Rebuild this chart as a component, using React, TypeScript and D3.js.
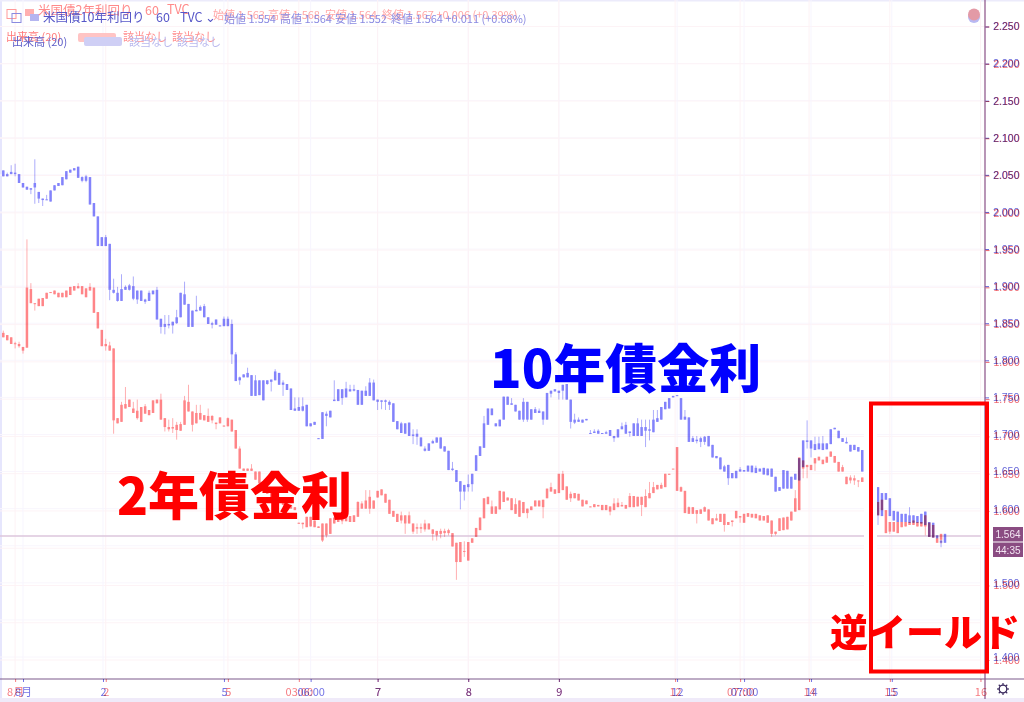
import React, { useEffect, useRef } from 'react';
import * as d3 from 'd3';

type Bar = [number, number, number, number] | null;

// rows are open, high, low, close; null = no bar in the pasted gap
const tenYear: Bar[] = [
  [2.056,2.056,2.048,2.048],[2.051,2.053,2.048,2.048],[2.054,2.063,2.051,2.051],[2.053,2.065,2.048,2.051],[2.051,2.051,2.039,2.039],[2.039,2.039,2.033,2.033],
  [2.034,2.034,2.030,2.030],[2.032,2.032,2.024,2.030],[2.039,2.071,2.011,2.033],[2.027,2.027,2.012,2.018],[2.018,2.018,2.008,2.016],[2.017,2.023,2.016,2.016],
  [2.029,2.029,2.014,2.014],[2.036,2.036,2.029,2.029],[2.039,2.039,2.035,2.035],[2.047,2.047,2.036,2.036],[2.055,2.055,2.044,2.044],[2.057,2.057,2.053,2.053],
  [2.059,2.059,2.056,2.056],[2.061,2.061,2.046,2.046],[2.047,2.048,2.040,2.042],[2.048,2.050,2.040,2.042],[2.047,2.047,2.010,2.010],[2.012,2.012,1.994,1.994],
  [1.994,1.994,1.954,1.954],[1.966,1.966,1.954,1.954],[1.966,1.969,1.954,1.954],[1.957,1.957,1.881,1.895],[1.895,1.910,1.890,1.891],[1.891,1.899,1.879,1.880],
  [1.896,1.916,1.880,1.880],[1.899,1.901,1.895,1.895],[1.901,1.903,1.894,1.895],[1.900,1.913,1.881,1.883],[1.894,1.894,1.876,1.882],[1.894,1.894,1.880,1.880],
  [1.882,1.883,1.876,1.879],[1.891,1.894,1.880,1.880],[1.894,1.894,1.889,1.889],[1.895,1.899,1.855,1.855],[1.856,1.856,1.836,1.845],[1.849,1.861,1.835,1.845],
  [1.849,1.861,1.843,1.847],[1.852,1.852,1.836,1.847],[1.858,1.868,1.849,1.850],[1.891,1.891,1.858,1.858],[1.889,1.906,1.875,1.875],[1.876,1.876,1.845,1.845],
  [1.867,1.867,1.845,1.845],[1.868,1.887,1.866,1.866],[1.872,1.874,1.867,1.867],[1.873,1.876,1.858,1.858],[1.858,1.858,1.849,1.849],[1.850,1.852,1.843,1.848],
  [1.855,1.855,1.848,1.848],[1.847,1.847,1.846,1.846],[1.856,1.859,1.846,1.846],[1.856,1.859,1.846,1.846],[1.849,1.855,1.795,1.808],[1.808,1.811,1.772,1.772],
  [1.777,1.778,1.767,1.773],[1.781,1.781,1.777,1.777],[1.783,1.790,1.777,1.777],[1.780,1.780,1.752,1.752],[1.773,1.780,1.752,1.752],[1.773,1.773,1.753,1.753],
  [1.773,1.773,1.746,1.746],[1.773,1.773,1.767,1.768],[1.774,1.774,1.758,1.771],[1.785,1.788,1.773,1.773],[1.783,1.783,1.767,1.767],[1.770,1.773,1.752,1.767],
  [1.768,1.768,1.760,1.760],[1.762,1.762,1.733,1.733],[1.735,1.750,1.732,1.732],[1.737,1.750,1.732,1.732],[1.738,1.750,1.731,1.732],[1.740,1.740,1.711,1.711],
  [1.715,1.715,1.711,1.711],[1.717,1.717,1.713,1.713],[1.695,1.695,1.694,1.694],[1.730,1.730,1.694,1.694],[1.728,1.731,1.711,1.725],[1.732,1.732,1.723,1.723],
  [1.747,1.773,1.745,1.745],[1.761,1.761,1.745,1.745],[1.761,1.761,1.740,1.749],[1.762,1.771,1.750,1.750],[1.761,1.767,1.758,1.758],[1.761,1.767,1.758,1.759],
  [1.760,1.760,1.740,1.740],[1.759,1.759,1.740,1.740],[1.759,1.765,1.752,1.752],[1.770,1.776,1.752,1.752],[1.770,1.774,1.746,1.746],[1.747,1.747,1.733,1.744],
  [1.746,1.746,1.734,1.744],[1.746,1.747,1.733,1.744],[1.744,1.746,1.733,1.740],[1.742,1.742,1.717,1.717],[1.718,1.718,1.707,1.707],[1.715,1.717,1.702,1.702],
  [1.715,1.715,1.701,1.701],[1.716,1.716,1.698,1.698],[1.700,1.707,1.687,1.698],[1.701,1.707,1.686,1.697],[1.696,1.696,1.684,1.684],[1.681,1.684,1.677,1.678],
  [1.688,1.688,1.678,1.678],[1.691,1.693,1.688,1.688],[1.696,1.696,1.689,1.689],[1.696,1.696,1.681,1.681],[1.684,1.684,1.677,1.677],[1.678,1.678,1.652,1.652],
  [1.654,1.663,1.651,1.652],[1.652,1.652,1.636,1.636],[1.637,1.637,1.599,1.623],[1.632,1.632,1.611,1.623],[1.633,1.646,1.623,1.629],[1.647,1.647,1.623,1.633],
  [1.672,1.672,1.651,1.651],[1.684,1.684,1.671,1.671],[1.715,1.725,1.682,1.682],[1.735,1.735,1.713,1.713],[1.735,1.735,1.726,1.726],[1.715,1.715,1.711,1.711],
  [1.720,1.720,1.711,1.711],[1.751,1.751,1.720,1.720],[1.751,1.751,1.740,1.740],[1.742,1.749,1.740,1.740],[1.740,1.740,1.731,1.731],[1.732,1.732,1.720,1.720],
  [1.744,1.749,1.717,1.720],[1.744,1.744,1.717,1.720],[1.734,1.734,1.720,1.720],[1.734,1.737,1.729,1.729],[1.732,1.735,1.729,1.729],[1.731,1.731,1.713,1.720],
  [1.756,1.756,1.720,1.720],[1.759,1.759,1.750,1.755],[1.761,1.761,1.758,1.758],[1.759,1.759,1.747,1.756],[1.767,1.767,1.747,1.759],[1.768,1.768,1.747,1.747],
  [1.747,1.747,1.708,1.717],[1.720,1.728,1.714,1.716],[1.720,1.723,1.717,1.717],[1.720,1.720,1.716,1.716],[1.721,1.721,1.719,1.719],[1.702,1.706,1.701,1.701],
  [1.704,1.707,1.702,1.702],[1.705,1.707,1.701,1.701],[1.702,1.702,1.701,1.701],[1.703,1.705,1.701,1.701],[1.706,1.706,1.698,1.698],[1.698,1.698,1.690,1.695],
  [1.707,1.707,1.696,1.696],[1.711,1.716,1.707,1.707],[1.713,1.717,1.701,1.701],[1.704,1.704,1.697,1.702],[1.715,1.715,1.698,1.698],[1.715,1.722,1.698,1.698],
  [1.710,1.720,1.698,1.698],[1.710,1.720,1.683,1.705],[1.707,1.720,1.692,1.705],[1.720,1.733,1.703,1.703],[1.722,1.733,1.717,1.717],[1.737,1.737,1.720,1.720],
  [1.744,1.744,1.734,1.734],[1.749,1.749,1.735,1.735],[1.752,1.752,1.750,1.750],[1.753,1.753,1.752,1.752],[1.749,1.749,1.720,1.720],[1.724,1.733,1.720,1.720],
  [1.723,1.723,1.690,1.690],[1.695,1.698,1.690,1.690],[1.693,1.698,1.688,1.691],[1.695,1.697,1.683,1.690],[1.697,1.698,1.686,1.690],[1.698,1.698,1.684,1.684],
  [1.686,1.686,1.669,1.669],[1.671,1.671,1.668,1.668],[1.669,1.669,1.653,1.653],[1.657,1.659,1.650,1.650],[1.659,1.659,1.632,1.641],[1.648,1.648,1.641,1.641],
  [1.651,1.651,1.641,1.641],[1.653,1.656,1.650,1.650],[1.652,1.652,1.650,1.650],[1.658,1.658,1.650,1.650],[1.658,1.658,1.649,1.649],[1.655,1.658,1.648,1.648],
  [1.654,1.654,1.650,1.650],[1.655,1.655,1.646,1.646],[1.654,1.654,1.645,1.645],[1.654,1.654,1.643,1.643],[1.643,1.643,1.623,1.623],[1.629,1.629,1.624,1.624],
  [1.652,1.652,1.627,1.627],[1.651,1.651,1.627,1.627],[1.643,1.643,1.627,1.627],[1.647,1.647,1.639,1.639],[1.668,1.668,1.638,1.638],[1.692,1.692,1.656,1.656],
  [1.692,1.719,1.681,1.690],[1.692,1.692,1.669,1.681],[1.687,1.697,1.679,1.679],[1.688,1.697,1.680,1.680],[1.688,1.698,1.679,1.679],[1.688,1.688,1.680,1.680],
  [1.707,1.707,1.687,1.687],[1.709,1.709,1.707,1.707],[1.705,1.705,1.695,1.695],[1.695,1.695,1.690,1.690],[1.690,1.696,1.688,1.688],[1.686,1.686,1.677,1.677],
  [1.686,1.686,1.679,1.679],[1.683,1.683,1.677,1.677],[1.679,1.679,1.650,1.650],null,null,null,
  [1.629,1.629,1.578,1.591],[1.621,1.621,1.590,1.590],[1.621,1.621,1.612,1.612],[1.614,1.614,1.590,1.590],[1.597,1.597,1.584,1.584],[1.596,1.596,1.582,1.582],
  [1.593,1.593,1.582,1.582],[1.593,1.593,1.582,1.582],[1.591,1.602,1.581,1.581],[1.591,1.591,1.581,1.581],[1.590,1.590,1.581,1.581],[1.593,1.593,1.580,1.580],
  [1.596,1.596,1.578,1.578],[1.582,1.582,1.562,1.562],[1.581,1.581,1.561,1.561],[1.564,1.564,1.560,1.560],[1.557,1.557,1.548,1.554],[1.566,1.566,1.554,1.554],
];

const twoYear: Bar[] = [
  [1.837,1.840,1.831,1.831],[1.834,1.834,1.827,1.827],[1.831,1.831,1.822,1.822],[1.823,1.825,1.816,1.822],[1.822,1.825,1.817,1.819],[1.818,1.818,1.809,1.813],
  [1.898,1.963,1.817,1.817],[1.896,1.904,1.877,1.877],[1.877,1.877,1.867,1.876],[1.883,1.883,1.873,1.873],[1.884,1.884,1.873,1.873],[1.891,1.891,1.883,1.883],
  [1.892,1.892,1.891,1.891],[1.894,1.894,1.889,1.889],[1.891,1.891,1.885,1.885],[1.891,1.891,1.885,1.885],[1.894,1.894,1.885,1.885],[1.899,1.899,1.888,1.888],
  [1.900,1.900,1.894,1.894],[1.900,1.904,1.897,1.897],[1.900,1.900,1.889,1.889],[1.897,1.897,1.885,1.885],[1.899,1.904,1.894,1.894],[1.898,1.898,1.864,1.864],
  [1.865,1.865,1.843,1.843],[1.841,1.841,1.819,1.819],[1.822,1.829,1.813,1.819],[1.820,1.825,1.813,1.813],[1.816,1.816,1.701,1.719],[1.722,1.722,1.715,1.715],
  [1.740,1.744,1.717,1.717],[1.741,1.764,1.735,1.735],[1.747,1.747,1.737,1.737],[1.735,1.744,1.729,1.729],[1.732,1.747,1.720,1.722],[1.737,1.737,1.717,1.717],
  [1.738,1.741,1.728,1.728],[1.733,1.733,1.726,1.726],[1.746,1.746,1.729,1.729],[1.747,1.747,1.742,1.742],[1.747,1.755,1.720,1.720],[1.722,1.722,1.704,1.710],
  [1.710,1.720,1.704,1.707],[1.710,1.722,1.702,1.708],[1.713,1.717,1.693,1.706],[1.714,1.717,1.705,1.705],[1.746,1.752,1.713,1.713],[1.744,1.767,1.731,1.731],
  [1.731,1.731,1.704,1.713],[1.729,1.740,1.715,1.715],[1.729,1.740,1.720,1.720],[1.726,1.726,1.719,1.719],[1.725,1.735,1.717,1.717],[1.725,1.726,1.715,1.719],
  [1.716,1.716,1.707,1.714],[1.723,1.723,1.715,1.715],[1.712,1.712,1.711,1.711],[1.722,1.723,1.711,1.711],[1.720,1.720,1.704,1.704],[1.706,1.706,1.681,1.681],
  [1.681,1.684,1.654,1.654],[1.654,1.654,1.651,1.651],[1.654,1.654,1.651,1.651],[1.654,1.660,1.651,1.651],[1.650,1.650,1.639,1.639],[1.650,1.650,1.634,1.634],
  [1.632,1.632,1.625,1.625],[1.627,1.627,1.620,1.620],[1.622,1.622,1.615,1.615],[1.618,1.618,1.612,1.612],[1.615,1.615,1.608,1.608],[1.612,1.612,1.605,1.605],
  [1.608,1.608,1.603,1.603],[1.605,1.605,1.600,1.600],[1.602,1.602,1.598,1.598],[1.581,1.581,1.580,1.580],[1.581,1.581,1.573,1.579],[1.589,1.589,1.575,1.575],
  [1.589,1.589,1.576,1.576],[1.584,1.584,1.575,1.575],[1.576,1.576,1.574,1.574],[1.580,1.580,1.555,1.557],[1.580,1.580,1.561,1.564],[1.587,1.587,1.566,1.566],
  [1.588,1.588,1.580,1.580],[1.590,1.590,1.582,1.582],[1.588,1.588,1.579,1.583],[1.590,1.590,1.583,1.583],[1.590,1.590,1.582,1.582],[1.591,1.591,1.582,1.582],
  [1.609,1.610,1.589,1.589],[1.607,1.610,1.600,1.600],[1.611,1.625,1.600,1.600],[1.616,1.625,1.593,1.600],[1.611,1.611,1.600,1.600],[1.624,1.624,1.615,1.615],
  [1.626,1.626,1.618,1.618],[1.620,1.620,1.608,1.608],[1.612,1.612,1.593,1.593],[1.597,1.597,1.589,1.589],[1.593,1.593,1.582,1.582],[1.591,1.596,1.580,1.584],
  [1.591,1.591,1.566,1.580],[1.591,1.596,1.580,1.580],[1.580,1.580,1.566,1.569],[1.575,1.580,1.566,1.573],[1.575,1.580,1.567,1.573],[1.580,1.585,1.569,1.572],
  [1.580,1.580,1.572,1.572],[1.572,1.572,1.557,1.566],[1.570,1.570,1.557,1.564],[1.570,1.573,1.560,1.566],[1.570,1.573,1.562,1.567],[1.571,1.573,1.564,1.567],
  [1.567,1.567,1.549,1.549],[1.554,1.554,1.504,1.528],[1.555,1.555,1.528,1.528],[1.543,1.556,1.535,1.542],[1.555,1.555,1.530,1.530],[1.560,1.560,1.554,1.554],
  [1.574,1.574,1.562,1.562],[1.588,1.588,1.571,1.571],[1.614,1.614,1.587,1.587],[1.616,1.616,1.606,1.606],[1.603,1.611,1.593,1.593],[1.603,1.603,1.593,1.593],
  [1.624,1.624,1.599,1.599],[1.623,1.623,1.609,1.609],[1.615,1.615,1.611,1.611],[1.614,1.614,1.598,1.598],[1.606,1.614,1.593,1.593],[1.611,1.611,1.589,1.589],
  [1.609,1.609,1.594,1.594],[1.600,1.600,1.587,1.594],[1.603,1.603,1.598,1.598],[1.611,1.611,1.603,1.603],[1.611,1.611,1.603,1.603],[1.612,1.612,1.587,1.602],
  [1.627,1.627,1.614,1.614],[1.629,1.635,1.623,1.623],[1.626,1.626,1.620,1.620],[1.647,1.647,1.621,1.621],[1.647,1.651,1.625,1.625],[1.630,1.630,1.612,1.612],
  [1.620,1.623,1.609,1.614],[1.621,1.621,1.614,1.614],[1.620,1.620,1.611,1.611],[1.612,1.612,1.603,1.603],[1.611,1.611,1.606,1.606],[1.603,1.603,1.602,1.602],
  [1.606,1.606,1.602,1.602],[1.605,1.605,1.603,1.603],[1.605,1.605,1.598,1.598],[1.605,1.605,1.598,1.598],[1.603,1.603,1.591,1.596],[1.607,1.614,1.598,1.598],
  [1.608,1.614,1.602,1.602],[1.605,1.609,1.603,1.603],[1.605,1.605,1.600,1.600],[1.617,1.621,1.602,1.602],[1.617,1.617,1.602,1.602],[1.616,1.616,1.603,1.603],
  [1.616,1.616,1.590,1.605],[1.617,1.626,1.602,1.602],[1.621,1.636,1.614,1.614],[1.629,1.636,1.621,1.621],[1.632,1.632,1.626,1.626],[1.632,1.635,1.627,1.627],
  [1.647,1.647,1.629,1.629],[1.647,1.647,1.646,1.646],[1.654,1.654,1.654,1.654],[1.683,1.683,1.624,1.624],[1.629,1.630,1.623,1.623],[1.624,1.624,1.594,1.594],
  [1.602,1.603,1.593,1.593],[1.602,1.602,1.593,1.593],[1.598,1.598,1.580,1.593],[1.599,1.599,1.593,1.593],[1.602,1.603,1.596,1.596],[1.599,1.599,1.584,1.584],
  [1.587,1.587,1.579,1.579],[1.587,1.593,1.584,1.584],[1.593,1.593,1.582,1.582],[1.593,1.593,1.569,1.578],[1.582,1.582,1.578,1.578],[1.584,1.584,1.576,1.582],
  [1.597,1.597,1.587,1.587],[1.590,1.590,1.581,1.588],[1.593,1.593,1.581,1.581],[1.594,1.594,1.589,1.589],[1.593,1.593,1.588,1.588],[1.593,1.593,1.587,1.587],
  [1.591,1.591,1.584,1.584],[1.590,1.590,1.584,1.584],[1.591,1.591,1.581,1.581],[1.584,1.584,1.562,1.566],[1.569,1.569,1.564,1.566],[1.587,1.587,1.570,1.570],
  [1.588,1.588,1.571,1.571],[1.589,1.589,1.572,1.572],[1.596,1.596,1.584,1.584],[1.614,1.625,1.596,1.596],[1.669,1.669,1.598,1.598],[1.665,1.665,1.641,1.654],
  [1.659,1.659,1.641,1.656],[1.659,1.659,1.652,1.652],[1.668,1.668,1.651,1.661],[1.670,1.670,1.665,1.665],[1.666,1.666,1.660,1.660],[1.670,1.670,1.662,1.662],
  [1.677,1.677,1.670,1.670],[1.671,1.671,1.662,1.662],[1.663,1.663,1.650,1.650],[1.656,1.659,1.650,1.650],[1.643,1.643,1.633,1.633],[1.642,1.645,1.634,1.638],
  [1.641,1.645,1.632,1.638],[1.638,1.638,1.629,1.637],[1.642,1.642,1.636,1.636],null,null,null,
  [1.609,1.609,1.591,1.591],[1.612,1.612,1.598,1.598],[1.598,1.598,1.567,1.567],[1.582,1.582,1.566,1.569],[1.582,1.582,1.569,1.569],[1.582,1.582,1.567,1.567],
  [1.582,1.582,1.575,1.575],[1.582,1.582,1.576,1.576],[1.582,1.582,1.578,1.578],[1.584,1.584,1.578,1.578],[1.582,1.582,1.576,1.576],[1.582,1.582,1.576,1.576],
  [1.591,1.591,1.564,1.576],[1.581,1.581,1.562,1.562],[1.578,1.578,1.561,1.561],[1.560,1.564,1.554,1.554],[1.566,1.566,1.553,1.558],null,
];

const priceTicks = [2.25, 2.2, 2.15, 2.1, 2.05, 2.0, 1.95, 1.9, 1.85, 1.8, 1.75, 1.7, 1.65, 1.6, 1.55, 1.5, 1.45, 1.4];
// 1.550 and 1.450 sit under the price tags and the pasted caption
const priceLabels = [2.25, 2.2, 2.15, 2.1, 2.05, 2.0, 1.95, 1.9, 1.85, 1.8, 1.75, 1.7, 1.65, 1.6, 1.5, 1.4];
const tenYearTimeBars = [5, 25.3, 56, 78, 95, 118, 141, 171, 188, 205, 225.5];
const tenYearTimeLabels = ['8月', '2', '5', '06:00', '7', '8', '9', '12', '07:00', '14', '15'];
const twoYearTimeBars = [3, 26, 57, 75, 95, 118, 141, 170.5, 187, 204.5, 225, 248];
const twoYearTimeLabels = ['8月', '2', '5', '03:00', '7', '8', '9', '12', '07:00', '14', '15', '16'];
const lastPrice = 1.563;

const width = 1024;
const height = 702;
const axisX = 985;
const axisY = 679;
const sansFont = '"Noto Sans CJK JP", "Noto Sans", sans-serif';
const axisFont = '"Liberation Sans", Arial, sans-serif';

const App = () => {
  const svgRef = useRef<SVGSVGElement>(null);

  useEffect(() => {
    const svg = d3.select(svgRef.current);
    svg.selectAll('*').remove();

    const x = d3.scaleLinear().domain([0, 239]).range([3.3, 945]);
    const y = d3.scaleLinear().domain([2.25, 1.4]).range([26.5, 657]);
    // the two pasted charts disagree a little on the price scale
    const yRed = d3.scaleLinear().domain([2.25, 1.4]).range([26.5, 660]);

    const defs = svg.append('defs');
    defs.append('filter').attr('id', 'soft').append('feGaussianBlur').attr('stdDeviation', 0.45);

    svg.append('rect').attr('width', width).attr('height', height).attr('fill', '#fff');

    // outer bands of the screenshot
    svg.append('rect').attr('width', 2).attr('height', height).attr('fill', '#e6e6fd');
    svg.append('rect').attr('width', width).attr('height', 1.5).attr('fill', '#ecebfb');
    svg.append('rect').attr('y', 698).attr('width', width).attr('height', 4).attr('fill', '#efeaf9');

    // grid
    const grid = svg.append('g').attr('fill', 'none').attr('stroke-width', 1);
    priceTicks.forEach((p) => {
      grid.append('line').attr('x1', 0).attr('x2', axisX).attr('y1', y(p)).attr('y2', y(p)).attr('stroke', '#f9f6fd');
      grid.append('line').attr('x1', 0).attr('x2', axisX).attr('y1', yRed(p)).attr('y2', yRed(p)).attr('stroke', '#fdf3f6');
    });
    tenYearTimeBars.forEach((b) => {
      grid.append('line').attr('x1', x(b)).attr('x2', x(b)).attr('y1', 0).attr('y2', axisY).attr('stroke', '#f7f5fe');
    });
    twoYearTimeBars.forEach((b) => {
      grid.append('line').attr('x1', x(b)).attr('x2', x(b)).attr('y1', 0).attr('y2', axisY).attr('stroke', '#fdf2f5');
    });

    // last price line
    svg.append('line')
      .attr('x1', 0).attr('x2', axisX)
      .attr('y1', y(lastPrice)).attr('y2', y(lastPrice))
      .attr('stroke', '#dcc6dc').attr('stroke-width', 1.5);

    // candles
    const drawBars = (rows: Bar[], color: string, wick: string) => {
      const g = svg.append('g').attr('filter', 'url(#soft)').style('mix-blend-mode', 'multiply');
      const bars = rows
        .map((d, i) => ({ d, i }))
        .filter((r) => r.d !== null) as { d: [number, number, number, number]; i: number }[];
      g.selectAll('line')
        .data(bars)
        .enter()
        .append('line')
        .attr('x1', (r) => x(r.i))
        .attr('x2', (r) => x(r.i))
        .attr('y1', (r) => y(r.d[1]))
        .attr('y2', (r) => y(r.d[2]))
        .attr('stroke', wick)
        .attr('stroke-width', 1);
      g.selectAll('rect')
        .data(bars)
        .enter()
        .append('rect')
        .attr('x', (r) => x(r.i) - 1.25)
        .attr('y', (r) => y(Math.max(r.d[0], r.d[3])))
        .attr('width', 2.5)
        .attr('height', (r) => Math.max(1, y(Math.min(r.d[0], r.d[3])) - y(Math.max(r.d[0], r.d[3]))))
        .attr('fill', color);
    };
    drawBars(tenYear, '#8383fb', '#adadfb');
    drawBars(twoYear, '#ff8588', '#ffafb1');

    // white paint around the pasted box
    svg.append('rect').attr('x', 864).attr('y', 400).attr('width', 13).attr('height', 272).attr('fill', '#fff');
    svg.append('rect').attr('x', 981).attr('y', 400).attr('width', 4).attr('height', 272).attr('fill', '#fff');

    // axes
    const fmt = d3.format('.3f');
    const drawPriceAxis = (scale: d3.ScaleLinear<number, number>, color: string, dx: number) => {
      const axis = svg.append('g')
        .attr('transform', `translate(${axisX + dx},0)`)
        .style('mix-blend-mode', 'multiply')
        .call(d3.axisRight(scale).tickValues(priceLabels).tickFormat((v) => fmt(v as number)).tickSize(4).tickPadding(4));
      axis.select('.domain').remove();
      axis.selectAll('line').attr('stroke', color);
      axis.selectAll('text').attr('fill', color).attr('font-size', 10.5).attr('font-family', axisFont);
    };
    drawPriceAxis(y, '#6666d8', 0);
    drawPriceAxis(yRed, '#ee666f', 0.5);

    svg.append('line').attr('x1', 0).attr('x2', width).attr('y1', axisY).attr('y2', axisY).attr('stroke', '#7d5a8c').attr('stroke-width', 1.2);
    svg.append('line').attr('x1', axisX).attr('x2', axisX).attr('y1', 0).attr('y2', 699).attr('stroke', '#8a4f86').attr('stroke-width', 1.2);

    const drawTimeAxis = (bars: number[], labels: string[], color: string) => {
      const byBar = new Map(bars.map((b, i) => [b, labels[i]]));
      const axis = svg.append('g')
        .attr('transform', `translate(0,${axisY})`)
        .style('mix-blend-mode', 'multiply')
        .call(d3.axisBottom(x).tickValues(bars).tickFormat((v) => byBar.get(v as number) ?? '').tickSize(3).tickPadding(6));
      axis.select('.domain').remove();
      axis.selectAll('line').attr('stroke', color);
      axis.selectAll('text').attr('fill', color).attr('font-size', 11).attr('font-family', sansFont);
    };
    drawTimeAxis(tenYearTimeBars, tenYearTimeLabels, '#7474e6');
    drawTimeAxis(twoYearTimeBars, twoYearTimeLabels, '#f57c82');

    // last price tags
    const tags = svg.append('g').attr('font-family', axisFont).attr('font-size', 10).attr('text-anchor', 'middle').attr('fill', '#f3e6f3');
    tags.append('rect').attr('x', 993).attr('y', 527).attr('width', 30).attr('height', 14.5).attr('fill', '#8a4c82');
    tags.append('rect').attr('x', 993).attr('y', 542.5).attr('width', 30).attr('height', 14.5).attr('fill', '#8a4c82');
    tags.append('text').attr('x', 1008).attr('y', 538).text('1.564');
    tags.append('text').attr('x', 1008).attr('y', 553.5).text('44:35');

    // gear icon
    const gear = svg.append('g').attr('transform', 'translate(1003,689)').attr('stroke', '#3b2a5e').attr('fill', 'none');
    gear.append('circle').attr('r', 3.8).attr('stroke-width', 1.3);
    d3.range(8).forEach((k) => {
      const a = (k * Math.PI) / 4;
      gear.append('line')
        .attr('x1', 3.8 * Math.cos(a)).attr('y1', 3.8 * Math.sin(a))
        .attr('x2', 6 * Math.cos(a)).attr('y2', 6 * Math.sin(a))
        .attr('stroke-width', 1.2);
    });

    // alert bubble, top right
    svg.append('circle').attr('cx', 974).attr('cy', 17).attr('r', 6).attr('fill', '#b9b9f3');
    svg.append('circle').attr('cx', 974).attr('cy', 14.5).attr('r', 6).attr('fill', '#e39aa6');

    // legends, both screenshots on top of each other
    const legend = svg.append('g').attr('filter', 'url(#soft)').attr('font-family', sansFont);
    const label = (tx: number, ty: number, str: string, color: string, size = 12) =>
      legend.append('text').attr('x', tx).attr('y', ty).attr('fill', color).attr('font-size', size).text(str);

    legend.append('rect').attr('x', 7).attr('y', 9.5).attr('width', 9).attr('height', 9).attr('fill', 'none').attr('stroke', '#ff9a9a');
    legend.append('rect').attr('x', 12).attr('y', 13.5).attr('width', 9).attr('height', 9).attr('fill', 'none').attr('stroke', '#8a8ae0');
    legend.append('rect').attr('x', 25).attr('y', 9).attr('width', 9).attr('height', 7).attr('fill', '#ffb0b0');
    legend.append('rect').attr('x', 30).attr('y', 14).attr('width', 9).attr('height', 7).attr('fill', '#b5b5f0');

    label(38, 15, '米国債2年利回り', '#ff8a8a', 12.5);
    label(145, 15, '60', '#ff8a8a', 12.5);
    label(167, 14, 'TVC', '#ff8a8a', 12.5);
    label(43, 22, '米国債10年利回り', '#5656c8', 12.5);
    label(156, 22, '60', '#5656c8', 12.5);
    label(180, 22, 'TVC ⌄', '#5656c8', 12.5);

    label(213, 19, '始値 1.563', '#ffa6a6', 11);
    label(268, 19, '高値 1.568', '#ffa6a6', 11);
    label(325, 19, '安値 1.564', '#ffa6a6', 11);
    label(382, 19, '終値 1.567 +0.006 (+0.39%)', '#ffa6a6', 11);
    label(224, 23, '始値 1.554', '#8a8ae2', 11);
    label(280, 23, '高値 1.564', '#8a8ae2', 11);
    label(335, 23, '安値 1.552', '#8a8ae2', 11);
    label(391, 23, '終値 1.564 +0.011 (+0.68%)', '#8a8ae2', 11);

    label(6, 41, '出来高 (20)', '#ff7a7a', 11);
    label(12, 46, '出来高 (20)', '#5c5cc8', 11);
    legend.append('rect').attr('x', 78).attr('y', 33).attr('width', 38).attr('height', 9).attr('rx', 2).attr('fill', '#ffc4c4');
    legend.append('rect').attr('x', 84).attr('y', 37).attr('width', 38).attr('height', 9).attr('rx', 2).attr('fill', '#cfcff5');
    label(123, 41, '該当なし', '#ff8f8f', 11);
    label(172, 41, '該当なし', '#ff8f8f', 11);
    label(129, 46, '該当なし', '#b8b8ee', 11);
    label(177, 46, '該当なし', '#b8b8ee', 11);

    // pasted annotations
    const note = svg.append('g').attr('font-family', sansFont).attr('font-weight', 900);
    note.append('text').attr('x', 490).attr('y', 388).attr('font-size', 52).attr('fill', '#0000ff').text('10年債金利');
    note.append('text').attr('x', 117).attr('y', 515).attr('font-size', 51).attr('fill', '#ff0000').text('2年債金利');
    svg.append('rect').attr('x', 871).attr('y', 403.5).attr('width', 116).attr('height', 268).attr('fill', 'none').attr('stroke', '#ff0000').attr('stroke-width', 4);
    note.append('text').attr('x', 830).attr('y', 646).attr('font-size', 38).attr('fill', '#ff0000').text('逆イールド');
  }, []);

  return <svg ref={svgRef} width={width} height={height} style={{ position: 'absolute', left: 0, top: 0 }} />;
};

export default App;
